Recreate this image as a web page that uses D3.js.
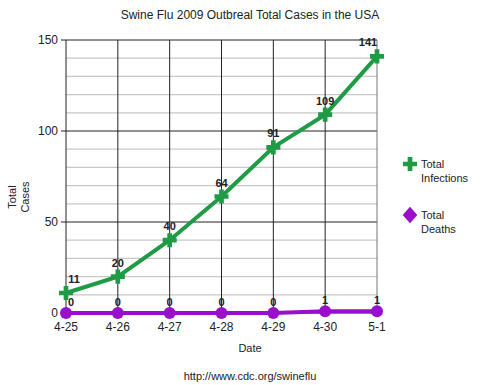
<!DOCTYPE html>
<html>
<head>
<meta charset="utf-8">
<script src="https://d3js.org/d3.v7.min.js"></script>
<style>
  body { margin: 0; background: #fff; }
  text { font-family: "Liberation Sans", Arial, sans-serif; fill: #222; }
</style>
</head>
<body>
<div class="vis"></div>
<script>
  // data
  var dates = ['4-25', '4-26', '4-27', '4-28', '4-29', '4-30', '5-1'];
  var infections = [11, 20, 40, 64, 91, 109, 141];
  var deaths = [0, 0, 0, 0, 0, 1, 1];
  var yTicks = [0, 50, 100, 150];

  var width = 499, height = 385;
  var plotL = 66, plotR = 377, plotT = 40, plotB = 313;

  var svg = d3.select('.vis').append('svg')
    .attr('width', width)
    .attr('height', height);

  var x = d3.scalePoint().domain(dates).range([plotL, plotR]);
  var y = d3.scaleLinear().domain([0, 150]).range([plotB, plotT]);

  // minor grid lines every 10
  svg.append('g')
    .selectAll('line')
    .data(d3.range(10, 150, 10).filter(function (d) { return d % 50 != 0; }))
    .join('line')
    .attr('x1', plotL).attr('x2', plotR)
    .attr('y1', function (d) { return y(d); })
    .attr('y2', function (d) { return y(d); })
    .attr('stroke', '#c8c8c8')
    .attr('stroke-width', 1.2);

  // major grid lines
  svg.append('g')
    .selectAll('line')
    .data(yTicks)
    .join('line')
    .attr('x1', plotL - 5).attr('x2', plotR)
    .attr('y1', function (d) { return y(d); })
    .attr('y2', function (d) { return y(d); })
    .attr('stroke', '#222')
    .attr('stroke-width', 1);

  // vertical lines at each date
  svg.append('g')
    .selectAll('line')
    .data(dates)
    .join('line')
    .attr('x1', function (d) { return x(d); })
    .attr('x2', function (d) { return x(d); })
    .attr('y1', plotT).attr('y2', plotB)
    .attr('stroke', function (d, i) { return i == dates.length - 1 ? '#777' : '#222'; })
    .attr('stroke-width', 1);

  // y axis labels
  svg.append('g')
    .selectAll('text')
    .data(yTicks)
    .join('text')
    .attr('x', plotL - 8)
    .attr('y', function (d) { return y(d) + 4; })
    .attr('text-anchor', 'end')
    .style('font-size', '12px')
    .text(function (d) { return d; });

  // x axis labels
  svg.append('g')
    .selectAll('text')
    .data(dates)
    .join('text')
    .attr('x', function (d) { return x(d); })
    .attr('y', plotB + 18)
    .attr('text-anchor', 'middle')
    .style('font-size', '12px')
    .text(function (d) { return d; });

  // title and axis titles
  svg.append('text')
    .attr('x', 250).attr('y', 19)
    .attr('text-anchor', 'middle')
    .style('font-size', '12px')
    .text('Swine Flu 2009 Outbreal Total Cases in the USA');

  svg.append('text')
    .attr('x', 250).attr('y', 352)
    .attr('text-anchor', 'middle')
    .style('font-size', '11px')
    .text('Date');

  svg.append('text')
    .attr('x', 250).attr('y', 380)
    .attr('text-anchor', 'middle')
    .style('font-size', '11px')
    .text('http://www.cdc.org/swineflu');

  var ylab = svg.append('text')
    .attr('transform', 'translate(16,197) rotate(-90)')
    .attr('text-anchor', 'middle')
    .style('font-size', '11px');
  ylab.append('tspan').attr('x', 0).attr('dy', 0).text('Total');
  ylab.append('tspan').attr('x', 0).attr('dy', 13).text('Cases');

  var green = '#1f9a45';
  var purple = '#9a0fcc';

  var line = d3.line()
    .x(function (d, i) { return x(dates[i]); })
    .y(function (d) { return y(d); });

  // deaths series
  svg.append('path')
    .attr('d', line(deaths))
    .attr('fill', 'none')
    .attr('stroke', purple)
    .attr('stroke-width', 4);

  svg.append('g')
    .selectAll('circle')
    .data(deaths)
    .join('circle')
    .attr('cx', function (d, i) { return x(dates[i]); })
    .attr('cy', function (d) { return y(d); })
    .attr('r', 6)
    .attr('fill', purple);

  // infections series
  svg.append('path')
    .attr('d', line(infections))
    .attr('fill', 'none')
    .attr('stroke', green)
    .attr('stroke-width', 4);

  var plus = d3.symbol().type(d3.symbolCross).size(110);

  svg.append('g')
    .selectAll('path')
    .data(infections)
    .join('path')
    .attr('d', plus)
    .attr('transform', function (d, i) { return 'translate(' + x(dates[i]) + ',' + y(d) + ')'; })
    .attr('fill', green);

  // value labels
  function labelX(i) {
    var px = x(dates[i]);
    if (i == 0) return px + 8;
    if (i == dates.length - 1) return px - 9;
    return px;
  }

  svg.append('g')
    .selectAll('text')
    .data(infections)
    .join('text')
    .attr('x', function (d, i) { return labelX(i); })
    .attr('y', function (d) { return y(d) - 10; })
    .attr('text-anchor', 'middle')
    .style('font-size', '11px')
    .style('font-weight', 'bold')
    .text(function (d) { return d; });

  svg.append('g')
    .selectAll('text')
    .data(deaths)
    .join('text')
    .attr('x', function (d, i) { return i == 0 ? x(dates[i]) + 5 : x(dates[i]); })
    .attr('y', function (d) { return y(d) - 7; })
    .attr('text-anchor', 'middle')
    .style('font-size', '11px')
    .style('font-weight', 'bold')
    .text(function (d) { return d; });

  // legend
  var legend = svg.append('g');
  legend.append('path')
    .attr('d', plus)
    .attr('transform', 'translate(410,164)')
    .attr('fill', green);
  var t1 = legend.append('text').attr('x', 421).attr('y', 168).style('font-size', '11px');
  t1.append('tspan').attr('x', 421).text('Total');
  t1.append('tspan').attr('x', 421).attr('dy', 14).text('Infections');

  legend.append('path')
    .attr('d', d3.symbol().type(d3.symbolDiamond).size(110))
    .attr('transform', 'translate(410,215) scale(1.3,0.85)')
    .attr('fill', purple);
  var t2 = legend.append('text').attr('x', 421).attr('y', 219).style('font-size', '11px');
  t2.append('tspan').attr('x', 421).text('Total');
  t2.append('tspan').attr('x', 421).attr('dy', 14).text('Deaths');
</script>
</body>
</html>
